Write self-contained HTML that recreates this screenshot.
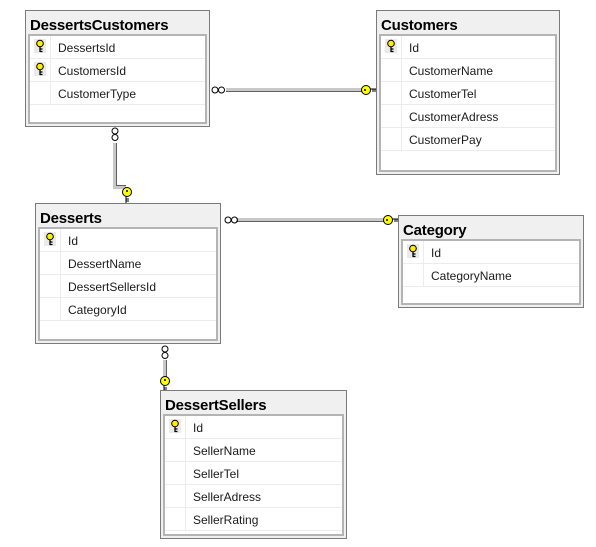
<!DOCTYPE html>
<html><head><meta charset="utf-8"><style>
body{margin:0;width:596px;height:547px;background:#fff;position:relative;overflow:hidden;font-family:"Liberation Sans",sans-serif}
.t{position:absolute;border:1px solid #7a7a7a;background:#f0f0f0;box-sizing:border-box}
.t .h{position:absolute;left:4px;top:6px;font-weight:bold;font-size:15px;color:#000;letter-spacing:-0.2px}
.t .in{position:absolute;left:2px;right:2px;top:23px;bottom:2px;border:2px solid #b4b4b4;background:#fff}
.r{position:absolute;left:0;right:0;height:23px;border-bottom:1px solid #ececec;box-sizing:border-box}
.r .k{position:absolute;left:0;top:0;width:20px;height:22px;border-right:1px solid #ececec}
.r span{position:absolute;left:28px;top:5px;font-size:12px;color:#1a1a1a}
.key{position:absolute;left:4px;top:3px;width:12px;height:14px;background:#eaeaea}
</style></head><body>
<svg width="596" height="547" style="position:absolute;left:0;top:0">
<g fill="none">
<path d="M226 89.5H364" stroke="#c8c8c8" stroke-width="3"/><path d="M226 91.5H364" stroke="#606060"/>
<path d="M236 219.5H386" stroke="#c8c8c8" stroke-width="3"/><path d="M236 221.5H386" stroke="#606060"/>
<path d="M114.5 143V187.5H126" stroke="#c8c8c8" stroke-width="3"/><path d="M116.5 143V185.5H126" stroke="#606060"/>
<path d="M164.5 360V378" stroke="#c8c8c8" stroke-width="3"/><path d="M166.5 360V378" stroke="#606060"/>
<g stroke="#000"><circle cx="215" cy="90" r="3"/><circle cx="221.5" cy="90" r="3"/>
<circle cx="228" cy="220" r="3"/><circle cx="234.5" cy="220" r="3"/>
<circle cx="115" cy="131" r="3"/><circle cx="115" cy="137.5" r="3"/>
<circle cx="165" cy="349" r="3"/><circle cx="165" cy="355.5" r="3"/></g>
<g fill="#ffff00" stroke="#000" stroke-width="1">
<circle cx="366" cy="90" r="4.5"/><path d="M370 89H376M373 89v3M375 89v3"/>
<circle cx="388" cy="220" r="4.5"/><path d="M392 219H398M395 219v3M397 219v3"/>
<circle cx="127" cy="192" r="4.5"/><path d="M126 196V203M126 199h3M126 201h3"/>
<circle cx="165" cy="381" r="4.5"/><path d="M164 385V391M164 388h3M164 390h3"/></g>
<g fill="#000"><circle cx="365" cy="90" r="1"/><circle cx="387" cy="220" r="1"/><circle cx="127" cy="191" r="1"/><circle cx="165" cy="380" r="1"/></g>
</g></svg>
<div id="c"></div>
<script>
var T=[["DessertsCustomers",25,10,185,117,[["DessertsId",1],["CustomersId",1],["CustomerType",0]]],
["Customers",376,10,184,165,[["Id",1],["CustomerName",0],["CustomerTel",0],["CustomerAdress",0],["CustomerPay",0]]],
["Desserts",35,203,186,141,[["Id",1],["DessertName",0],["DessertSellersId",0],["CategoryId",0]]],
["Category",398,215,186,93,[["Id",1],["CategoryName",0]]],
["DessertSellers",160,390,187,149,[["Id",1],["SellerName",0],["SellerTel",0],["SellerAdress",0],["SellerRating",0]]]];
var h="";
T.forEach(function(t){
 h+='<div class="t" style="left:'+t[1]+'px;top:'+t[2]+'px;width:'+t[3]+'px;height:'+t[4]+'px"><div class="h">'+t[0]+'</div><div class="in">';
 t[5].forEach(function(r,i){
  h+='<div class="r" style="top:'+(i*23)+'px"><div class="k">'+(r[1]?'<svg class="key" width="12" height="14" viewBox="0 0 12 14"><rect width="12" height="14" fill="#eaeaea"/><circle cx="6" cy="4.5" r="3.3" fill="#ffef00" stroke="#000"/><path d="M6 8v5M6 10h2.5M6 12.5h2.5" stroke="#000" stroke-width="1.3"/></svg>':'')+'</div><span>'+r[0]+'</span></div>';
 });
 h+='</div></div>';
});
document.getElementById("c").innerHTML=h;
</script>
</body></html>
